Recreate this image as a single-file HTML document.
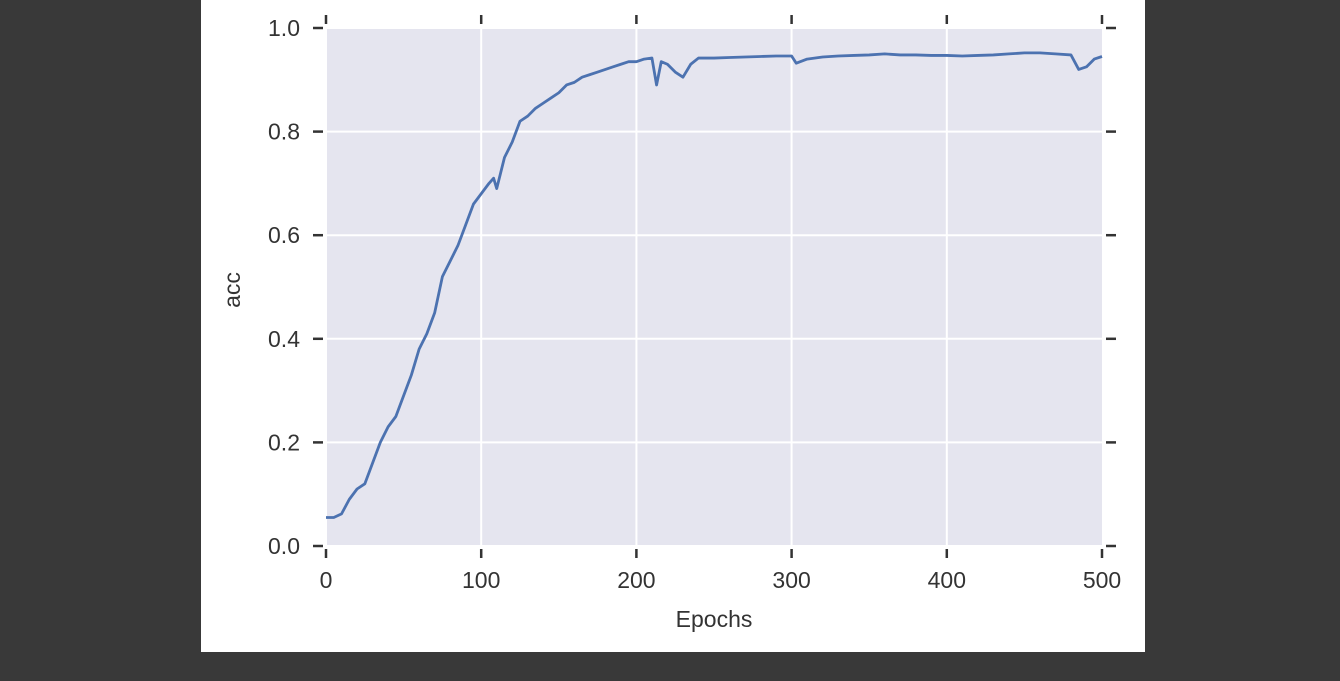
<!DOCTYPE html>
<html><head><meta charset="utf-8"><style>
html,body{margin:0;padding:0;background:#393939;width:1340px;height:681px;overflow:hidden}
svg{display:block}
text{font-family:"Liberation Sans",sans-serif;fill:#333;font-size:23px}
</style></head><body>
<svg id="c" width="1340" height="681">
<rect x="201" y="0" width="944" height="652" fill="#fff"/>
</svg>
<script>
const epochs=[0,5,10,15,20,25,30,35,40,45,50,55,60,65,70,75,80,85,90,95,100,105,108,110,115,120,125,130,135,140,145,150,155,160,165,170,175,180,185,190,195,200,205,210,213,216,220,225,230,235,240,250,260,270,280,290,300,303,310,320,330,340,350,360,370,380,390,400,410,420,430,440,450,460,470,480,485,490,495,500];
const acc=[0.055,0.055,0.062,0.09,0.11,0.12,0.16,0.2,0.23,0.25,0.29,0.33,0.38,0.41,0.45,0.52,0.55,0.58,0.62,0.66,0.68,0.70,0.71,0.69,0.75,0.78,0.82,0.83,0.845,0.855,0.865,0.875,0.89,0.895,0.905,0.91,0.915,0.92,0.925,0.93,0.935,0.935,0.94,0.942,0.89,0.935,0.93,0.915,0.905,0.93,0.942,0.942,0.943,0.944,0.945,0.946,0.946,0.932,0.94,0.944,0.946,0.947,0.948,0.95,0.948,0.948,0.947,0.947,0.946,0.947,0.948,0.95,0.952,0.952,0.95,0.948,0.92,0.925,0.94,0.945];
const xTicks=[0,100,200,300,400,500];
const yTicks=[0.0,0.2,0.4,0.6,0.8,1.0];
const NS="http://www.w3.org/2000/svg",svg=document.getElementById('c');
const X=v=>326+v/500*776, Y=v=>546-v*518;
function el(t,a){const e=document.createElementNS(NS,t);for(const k in a)e.setAttribute(k,a[k]);svg.appendChild(e);return e;}
const bg=el('rect',{x:327,y:29,width:775,height:516,fill:'#e5e5ef'});


xTicks.forEach(t=>{
 if(t>0&&t<500){const g=el('line',{x1:X(t),x2:X(t),y1:29,y2:545,stroke:'#fff','stroke-width':2});
 
 }
 const a=el('line',{x1:X(t),x2:X(t),y1:15,y2:24,stroke:'#333','stroke-width':2.5});
 
 
 const b=el('line',{x1:X(t),x2:X(t),y1:549,y2:558,stroke:'#333','stroke-width':2.5});
 
 
 const l=el('text',{x:X(t),y:588,'text-anchor':'middle'});l.textContent=t;
 
 
});
yTicks.forEach(t=>{
 if(t>0&&t<1){const g=el('line',{x1:327,x2:1102,y1:Y(t),y2:Y(t),stroke:'#fff','stroke-width':2});
 
 }
 const a=el('line',{x1:313,x2:323,y1:Y(t),y2:Y(t),stroke:'#333','stroke-width':2.5});
 
 
 const b=el('line',{x1:1106,x2:1116,y1:Y(t),y2:Y(t),stroke:'#333','stroke-width':2.5});
 
 
 const l=el('text',{x:300,y:Y(t)+8,'text-anchor':'end'});l.textContent=t.toFixed(1);
 
 
});
const line=el('polyline',{points:epochs.map((e,i)=>X(e)+','+Y(acc[i])).join(' '),fill:'none',stroke:'#4c72b0','stroke-width':2.8,'stroke-linejoin':'round'});


const xt=el('text',{x:714,y:627,'text-anchor':'middle','font-size':25});xt.textContent='Epochs';


const yt=el('text',{x:240,y:290,'text-anchor':'middle','font-size':25,transform:'rotate(-90 240 290)'});yt.textContent='acc';


</script>
</body></html>
